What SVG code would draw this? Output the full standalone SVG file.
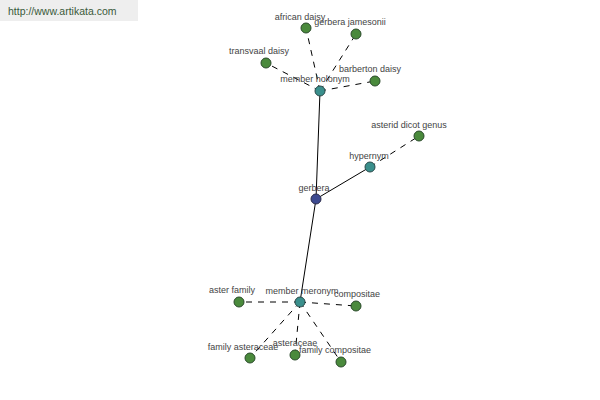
<svg xmlns="http://www.w3.org/2000/svg" width="600" height="400" viewBox="0 0 600 400">
<style>
text{font-family:"Liberation Sans",Arial,sans-serif;font-size:9px;fill:#444;text-anchor:middle}
.leaf{fill:#4a8a3c;stroke:#2a4a2a;stroke-width:1}
.rel{fill:#3a8f8c;stroke:#2a4a4a;stroke-width:1}
.root{fill:#3d4a90;stroke:#2a2a4a;stroke-width:1}
.solid{stroke:#000;stroke-width:1;fill:none}
.dash{stroke:#000;stroke-width:1;fill:none;stroke-dasharray:6,6}
</style>
<rect x="0" y="0" width="138" height="21" fill="#eeeeee"/>
<text x="8" y="15" style="text-anchor:start;font-size:10.5px;fill:#3a5a3a">http://www.artikata.com</text>
<g id="connectors">
<line class="solid" x1="316" y1="199" x2="320" y2="91"/>
<line class="solid" x1="316" y1="199" x2="370" y2="167"/>
<line class="solid" x1="316" y1="199" x2="300" y2="302"/>
<line class="dash" x1="320" y1="91" x2="306" y2="28"/>
<line class="dash" x1="320" y1="91" x2="356" y2="34"/>
<line class="dash" x1="320" y1="91" x2="266" y2="63"/>
<line class="dash" x1="320" y1="91" x2="375" y2="81"/>
<line class="dash" x1="370" y1="167" x2="419" y2="136"/>
<line class="dash" x1="300" y1="302" x2="239" y2="302"/>
<line class="dash" x1="300" y1="302" x2="356" y2="306"/>
<line class="dash" x1="300" y1="302" x2="250" y2="358"/>
<line class="dash" x1="300" y1="302" x2="295" y2="355"/>
<line class="dash" x1="300" y1="302" x2="341" y2="362"/>
</g>
<g id="gerbera"><circle class="root" cx="316" cy="199" r="5"/><text x="314" y="191">gerbera</text></g>
<g id="member-holonym"><circle class="rel" cx="320" cy="91" r="5"/><text x="315" y="82">member holonym</text></g>
<g id="hypernym"><circle class="rel" cx="370" cy="167" r="5"/><text x="369" y="159">hypernym</text></g>
<g id="member-meronym"><circle class="rel" cx="300" cy="302" r="5"/><text x="302" y="294">member meronym</text></g>
<g id="african-daisy"><circle class="leaf" cx="306" cy="28" r="5"/><text x="300" y="20">african daisy</text></g>
<g id="gerbera-jamesonii"><circle class="leaf" cx="356" cy="34" r="5"/><text x="350" y="25">gerbera jamesonii</text></g>
<g id="transvaal-daisy"><circle class="leaf" cx="266" cy="63" r="5"/><text x="259" y="54">transvaal daisy</text></g>
<g id="barberton-daisy"><circle class="leaf" cx="375" cy="81" r="5"/><text x="370" y="72">barberton daisy</text></g>
<g id="asterid-dicot-genus"><circle class="leaf" cx="419" cy="136" r="5"/><text x="409" y="128">asterid dicot genus</text></g>
<g id="aster-family"><circle class="leaf" cx="239" cy="302" r="5"/><text x="232" y="293">aster family</text></g>
<g id="compositae"><circle class="leaf" cx="356" cy="306" r="5"/><text x="357" y="297">compositae</text></g>
<g id="family-asteraceae"><circle class="leaf" cx="250" cy="358" r="5"/><text x="243" y="350">family asteraceae</text></g>
<g id="asteraceae"><circle class="leaf" cx="295" cy="355" r="5"/><text x="295" y="346">asteraceae</text></g>
<g id="family-compositae"><circle class="leaf" cx="341" cy="362" r="5"/><text x="335" y="353">family compositae</text></g>
</svg>
